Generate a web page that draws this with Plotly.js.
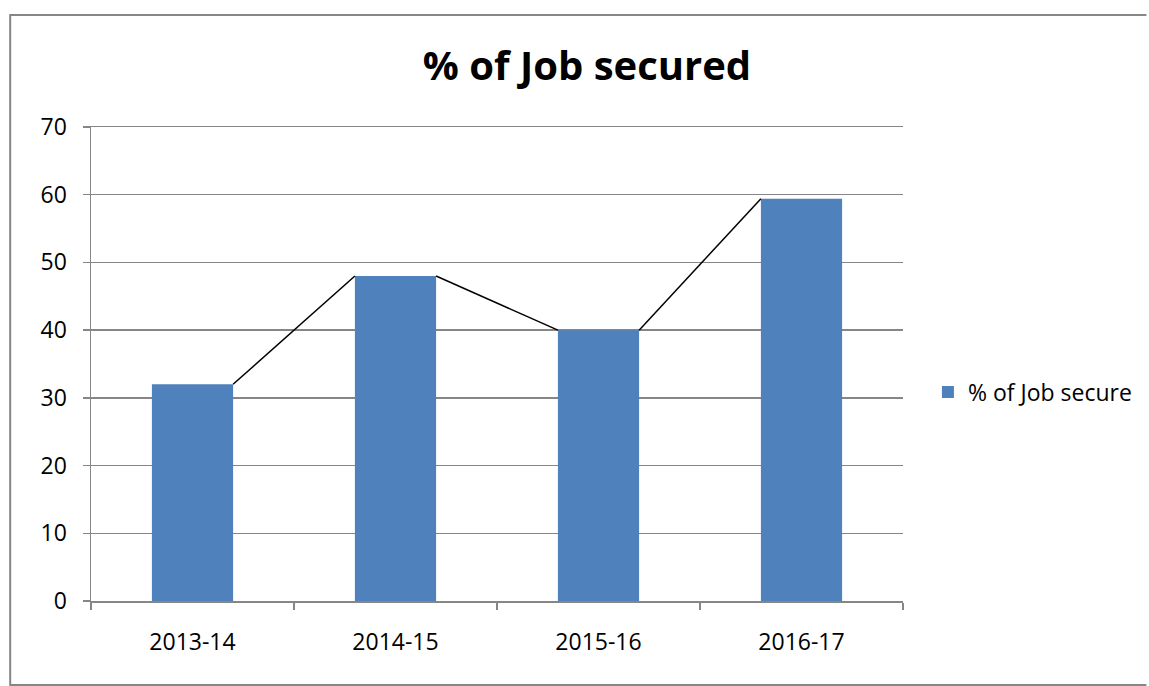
<!DOCTYPE html>
<html>
<head>
<meta charset="utf-8">
<script src="https://cdn.plot.ly/plotly-3.0.1.min.js"></script>
<style>html,body{margin:0;padding:0;background:#fff;overflow:hidden;}#chart{width:1149px;height:686px;}</style>
</head>
<body>
<div id="chart"></div>
<script>
const categories = ["2013-14", "2014-15", "2015-16", "2016-17"];
const values = [32, 48, 40, 59.4];
const seriesName = "% of Job secure";
const chartTitle = "% of Job secured";
const yTicks = [0, 10, 20, 30, 40, 50, 60, 70];

const barWidth = 0.4;
// series lines: from top-right of each bar to top-left of the next bar
const lineX = [];
const lineY = [];
for (let i = 0; i < values.length - 1; i++) {
  lineX.push(i + barWidth / 2, i + 1 - barWidth / 2, null);
  lineY.push(values[i], values[i + 1], null);
}

const FONT = "Open Sans, Liberation Sans, sans-serif";
const GRID = "#868686";

const data = [
  {
    type: "bar",
    x: categories,
    y: values,
    name: seriesName,
    width: barWidth,
    marker: {color: "#4F81BD", line: {width: 0}},
    showlegend: true,
    hoverinfo: "x+y"
  },
  {
    type: "scatter",
    mode: "lines",
    x: lineX,
    y: lineY,
    xaxis: "x2",
    line: {color: "#000000", width: 1.5},
    showlegend: false,
    connectgaps: false,
    hoverinfo: "skip"
  }
];

// chart-area border (left, top, bottom edges; right edge lies outside the picture)
const bx0 = (10 - 91) / 814, bx1 = (1149 - 91) / 814;
const by0 = (601 - 685) / 474, by1 = (601 - 15) / 474;

const layout = {
  width: 1149,
  height: 686,
  margin: {l: 91, r: 244, t: 127, b: 85},
  paper_bgcolor: "#ffffff",
  plot_bgcolor: "#ffffff",
  font: {family: FONT, size: 23, color: "#000000"},
  title: {
    text: "<b>" + chartTitle + "</b>",
    font: {family: FONT, size: 40, color: "#000000"},
    xref: "container", x: 587 / 1149, xanchor: "center",
    yref: "container", y: 1 - 66 / 686, yanchor: "middle"
  },
  xaxis: {
    type: "category",
    range: [-0.5, categories.length - 0.5],
    tickson: "boundaries",
    ticks: "outside",
    ticklen: 7,
    tickwidth: 1.5,
    tickcolor: GRID,
    showline: true,
    mirror: true,
    linecolor: GRID,
    linewidth: 1.5,
    showgrid: false,
    zeroline: false,
    ticklabelstandoff: 20,
    tickfont: {family: FONT, size: 23, color: "#000000"},
    fixedrange: true
  },
  xaxis2: {
    overlaying: "x",
    range: [-0.5, categories.length - 0.5],
    visible: false,
    fixedrange: true
  },
  yaxis: {
    range: [0, 70],
    tickvals: yTicks,
    ticks: "outside",
    ticklen: 7,
    tickwidth: 1.5,
    tickcolor: GRID,
    showline: true,
    linecolor: GRID,
    linewidth: 1.5,
    showgrid: true,
    gridcolor: GRID,
    gridwidth: 1.4,
    zeroline: false,
    ticklabelstandoff: 11,
    tickfont: {family: FONT, size: 23, color: "#000000"},
    fixedrange: true
  },
  showlegend: true,
  legend: {
    x: (930 - 91) / 814,
    xanchor: "left",
    y: (601 - 392) / 474,
    yanchor: "middle",
    font: {family: FONT, size: 23, color: "#000000"},
    bgcolor: "rgba(0,0,0,0)",
    itemwidth: 30
  },
  shapes: [
    {
      type: "path",
      xref: "paper", yref: "paper",
      path: "M " + bx1 + "," + by1 + " L " + bx0 + "," + by1 + " L " + bx0 + "," + by0 + " L " + bx1 + "," + by0,
      line: {color: GRID, width: 2},
      layer: "below"
    }
  ],
  bargap: 0.6
};

Plotly.newPlot("chart", data, layout, {displayModeBar: false, staticPlot: true});
</script>
</body>
</html>
